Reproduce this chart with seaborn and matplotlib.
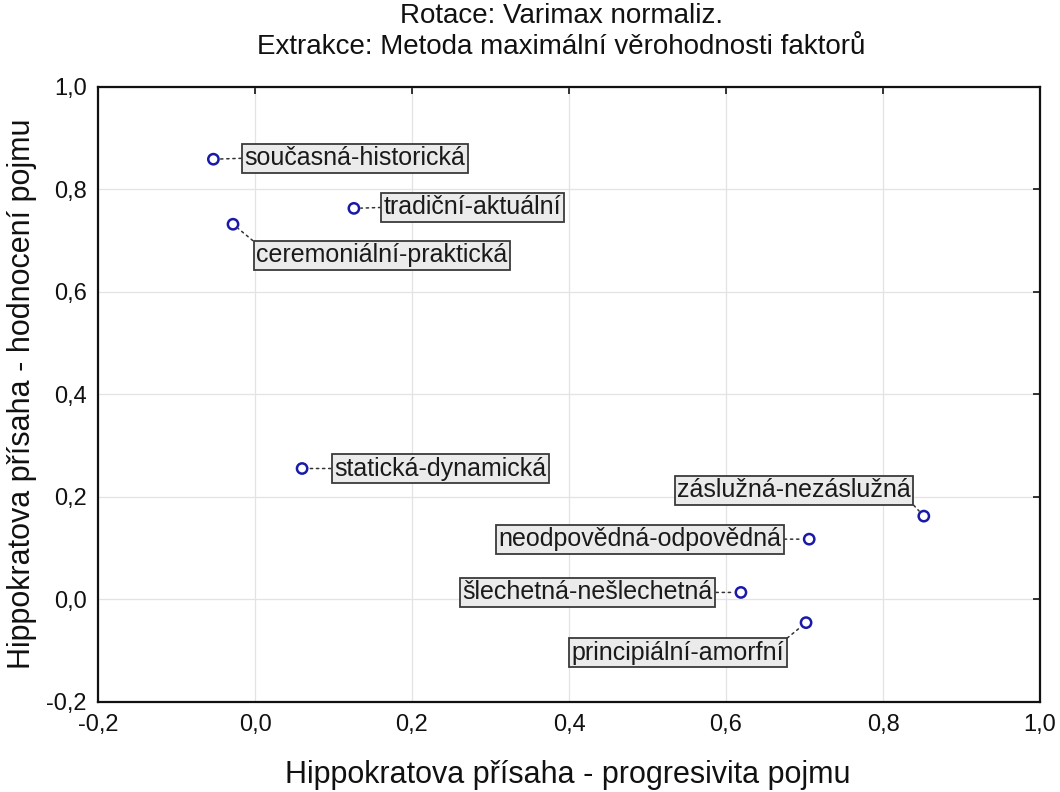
import matplotlib
matplotlib.use("Agg")
import matplotlib.pyplot as plt
import seaborn as sns
import pandas as pd
from matplotlib.ticker import FuncFormatter

# ---- data ----
labels = ["současná-historická", "tradiční-aktuální", "ceremoniální-praktická",
          "statická-dynamická", "záslužná-nezáslužná", "neodpovědná-odpovědná",
          "šlechetná-nešlechetná", "principiální-amorfní"]
factor1 = [-0.053, 0.126, -0.028, 0.060, 0.852, 0.706, 0.619, 0.702]
factor2 = [0.859, 0.763, 0.732, 0.255, 0.162, 0.117, 0.013, -0.046]
tick_values = [-0.2, 0.0, 0.2, 0.4, 0.6, 0.8, 1.0]

title_line1 = "Rotace: Varimax normaliz."
title_line2 = "Extrakce: Metoda maximální věrohodnosti faktorů"
xlabel = "Hippokratova přísaha - progresivita pojmu"
ylabel = "Hippokratova přísaha - hodnocení pojmu"

# label layout: pixel offset of text anchor from point, alignment, connector anchor on box
label_layout = [(31, 1, "left", (0, 0.5)), (30, 1, "left", (0, 0.5)),
                (23, -31, "left", (0, 1)), (32, 0, "left", (0, 0.5)),
                (-13, 26, "right", (1, 0)), (-28, 0, "right", (1, 0.5)),
                (-28, 0, "right", (1, 0.5)), (-22, -30, "right", (1, 1))]

df = pd.DataFrame({"f1": factor1, "f2": factor2, "label": labels})

sns.set_theme(style="white")
plt.rcParams["font.family"] = ["Liberation Sans", "DejaVu Sans"]

fig = plt.figure(figsize=(10.6, 7.92), dpi=100)
ax = fig.add_axes([98 / 1060, 1 - 701.5 / 792, (1040 - 98) / 1060, (701.5 - 87) / 792])

sns.scatterplot(data=df, x="f1", y="f2", ax=ax, marker="o", s=55,
                facecolor="none", edgecolor="#1a1aa8", linewidth=1.8, zorder=5)

for (x, y, lab), (dx, dy, ha, rp) in zip(zip(factor1, factor2, labels), label_layout):
    ax.annotate(lab, xy=(x, y), xytext=(dx, dy), textcoords="offset pixels",
                ha=ha, va="center", fontsize=18, color="#1a1a1a", zorder=6,
                bbox=dict(boxstyle="square,pad=0.1", fc="#ebebeb", ec="#3a3a3a", lw=1.3),
                arrowprops=dict(arrowstyle="-", linestyle=(0, (1.5, 2.5)), color="#333333",
                                lw=1.1, shrinkA=0, shrinkB=5, relpos=rp))

ax.set_xlim(-0.2, 1.0)
ax.set_ylim(-0.2, 1.0)
ax.set_xticks(tick_values)
ax.set_yticks(tick_values)
fmt = FuncFormatter(lambda v, p: f"{v:.1f}".replace(".", ",").replace("-0,0", "0,0"))
ax.xaxis.set_major_formatter(fmt)
ax.yaxis.set_major_formatter(fmt)
ax.tick_params(axis="both", which="major", direction="in", length=5, width=1.2,
               labelsize=17, top=True, right=True, colors="#111111")
ax.tick_params(axis="x", pad=9)
ax.tick_params(axis="y", pad=8)
ax.grid(True, color="#e3e3e3", linewidth=0.9)
ax.set_axisbelow(True)
for sp in ax.spines.values():
    sp.set_visible(True)
    sp.set_color("#111111")
    sp.set_linewidth(1.6)

ax.set_xlabel("")
ax.set_ylabel("")
fig.text(568 / 1060, 1 - 775 / 792, xlabel, ha="center", va="center", fontsize=22, color="#111111")
fig.text(22 / 1060, 1 - 394 / 792, ylabel, ha="center", va="center", rotation=90, fontsize=22, color="#111111")
fig.text(561 / 1060, 1 - 16 / 792, title_line1, ha="center", va="center", fontsize=20, color="#111111")
fig.text(561 / 1060, 1 - 47 / 792, title_line2, ha="center", va="center", fontsize=20, color="#111111")

fig.savefig("out.png", dpi=100)
